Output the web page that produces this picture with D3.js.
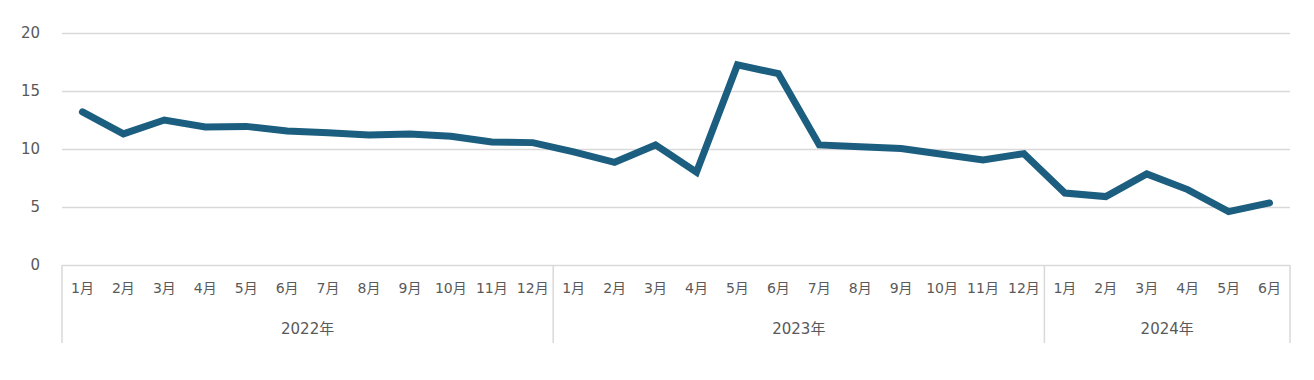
<!DOCTYPE html>
<html><head><meta charset="utf-8">
<script src="https://cdn.jsdelivr.net/npm/d3@7"></script>
<style>
body{margin:0;background:#fff;}
text{font-family:"DejaVu Sans","Noto Sans CJK JP",sans-serif;fill:#595959;}
</style></head>
<body><svg id="c" width="1314" height="380"></svg>
<script>
const years = ["2022年","2023年","2024年"];
const monthsPerYear = [12,12,6];
const monthLabels = ["1月","2月","3月","4月","5月","6月","7月","8月","9月","10月","11月","12月"];
const values = [
  13.2,11.3,12.5,11.9,11.95,11.55,11.4,11.2,11.3,11.1,10.6,10.55,
  9.75,8.85,10.35,8.0,17.25,16.5,10.35,10.2,10.05,9.55,9.05,9.6,
  6.2,5.9,7.85,6.5,4.6,5.35
];
const yTicks = [0,5,10,15,20];

const cats = [];
years.forEach((y,i)=>{for(let m=0;m<monthsPerYear[i];m++) cats.push({key:y+"-"+m,year:y,label:monthLabels[m]});});
const data = cats.map((c,i)=>({...c,v:values[i]}));

const svg = d3.select("#c");
const L=62,R=1290,T=33,B=265;
const x = d3.scaleBand().domain(cats.map(c=>c.key)).range([L,R]).padding(0);
const y = d3.scaleLinear().domain([0,20]).range([B,T]);

// gridlines
const g = svg.append("g").attr("transform",`translate(${L},0)`)
  .call(d3.axisLeft(y).tickValues(yTicks).tickSize(-(R-L)).tickPadding(22).tickFormat(d3.format("d")));
g.select(".domain").remove();
g.selectAll(".tick line").attr("stroke","#d9d9d9").attr("stroke-width",1.5);
g.selectAll(".tick text").attr("font-size",15).attr("fill","#595959").style("font-family",'"DejaVu Sans",sans-serif');

// category axis
const xa = svg.append("g").attr("transform",`translate(0,${B})`)
  .call(d3.axisBottom(x).tickSize(0).tickPadding(18).tickFormat(k=>cats.find(c=>c.key===k).label));
xa.select(".domain").remove();
xa.selectAll(".tick text").attr("font-size",14).attr("fill","#595959").style("font-family",'"DejaVu Sans","Noto Sans CJK JP",sans-serif');

// year group boxes
const bounds=[];let idx=0;
years.forEach((yr,i)=>{const first=cats[idx].key, last=cats[idx+monthsPerYear[i]-1].key;bounds.push({yr,x0:x(first),x1:x(last)+x.bandwidth()});idx+=monthsPerYear[i];});
const sepX = [bounds[0].x0, ...bounds.map(b=>b.x1)];
svg.append("g").selectAll("line").data(sepX).join("line")
  .attr("x1",d=>d).attr("x2",d=>d).attr("y1",B).attr("y2",343)
  .attr("stroke","#d9d9d9").attr("stroke-width",1.5);
svg.append("g").selectAll("text").data(bounds).join("text")
  .attr("x",d=>(d.x0+d.x1)/2).attr("y",334).attr("text-anchor","middle")
  .attr("font-size",15).text(d=>d.yr);

// line
const line = d3.line().x(d=>x(d.key)+x.bandwidth()/2).y(d=>y(d.v));
svg.append("path").datum(data).attr("d",line).attr("fill","none")
  .attr("stroke","#1b5e7f").attr("stroke-width",7).attr("stroke-linejoin","miter").attr("stroke-linecap","round");
</script></body></html>
